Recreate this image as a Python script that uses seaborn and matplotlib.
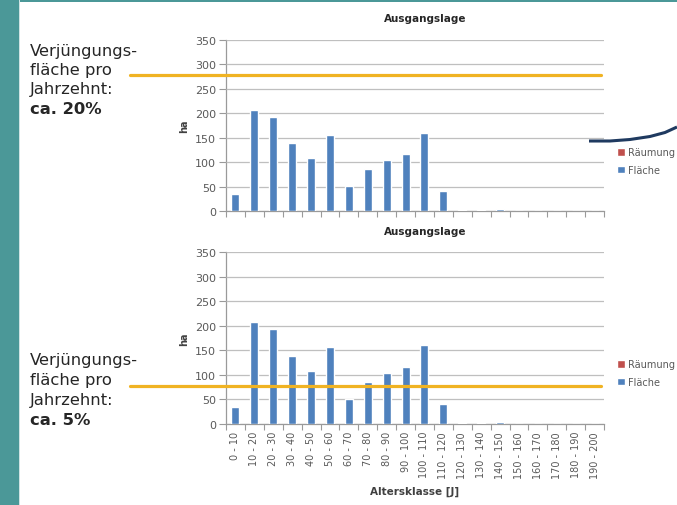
import matplotlib.pyplot as plt
import matplotlib.patches as mpatches
from matplotlib.lines import Line2D
import seaborn as sns
import pandas as pd
import numpy as np

sns.set_theme(style="white")
plt.rcParams['font.family'] = ['DejaVu Sans']

# Data
klassen = ["0 - 10", "10 - 20", "20 - 30", "30 - 40", "40 - 50", "50 - 60", "60 - 70",
           "70 - 80", "80 - 90", "90 - 100", "100 - 110", "110 - 120", "120 - 130",
           "130 - 140", "140 - 150", "150 - 160", "160 - 170", "170 - 180",
           "180 - 190", "190 - 200"]
flaeche = [35, 207, 193, 138, 108, 156, 51, 85, 104, 117, 160, 40, 3, 3, 5, 0, 0, 0, 0, 0]
raeumung = [0] * 20
serien = ["Räumung", "Fläche"]
farben = {"Räumung": "#c0504d", "Fläche": "#4f81bd"}
y_ticks = [0, 50, 100, 150, 200, 250, 300, 350]
titel = "Ausgangslage"
anteile = ["ca. 20%", "ca. 5%"]
linie_ha = [278, 78]  # level of the orange marker lines in ha

df = pd.DataFrame({
    "Altersklasse": klassen * 2,
    "ha": raeumung + flaeche,
    "Serie": ["Räumung"] * 20 + ["Fläche"] * 20,
})

W, H = 677, 506
fig = plt.figure(figsize=(W / 100, H / 100), dpi=100)
fig.patch.set_facecolor("white")

# teal frame of the slide
teal = "#4b9898"
fig.add_artist(mpatches.Rectangle((0, 0), 19 / W, 1, transform=fig.transFigure, color=teal, lw=0))
fig.add_artist(mpatches.Rectangle((0, 1 - 3 / H), 1, 3 / H, transform=fig.transFigure, color=teal, lw=0))
fig.add_artist(mpatches.Rectangle((19 / W, 0), 1.2 / W, 1, transform=fig.transFigure, color="#cfe3e3", lw=0))

grey = "#595959"


def px(x, y):
    return x / W, 1 - y / H


def draw_chart(top, bottom, show_labels, legend_y, title_y):
    ax = fig.add_axes([226 / W, 1 - bottom / H, 378 / W, (bottom - top) / H])
    sns.barplot(data=df, x="Altersklasse", y="ha", hue="Serie", hue_order=serien,
                palette=farben, dodge=False, width=0.42, ax=ax, saturation=1)
    ax.set_ylim(0, 350)
    ax.set_xlim(-0.5, 19.5)
    ax.set_yticks(y_ticks)
    ax.yaxis.grid(True, color="#bfbfbf", lw=0.9)
    ax.set_axisbelow(True)
    for s in ["top", "right"]:
        ax.spines[s].set_visible(False)
    for s in ["left", "bottom"]:
        ax.spines[s].set_color("#9a9a9a")
        ax.spines[s].set_linewidth(0.9)
        ax.spines[s].set_zorder(0.5)
    ax.tick_params(axis="y", length=5, width=0.8, color="#9a9a9a", labelsize=8, labelcolor=grey, pad=2, left=True)
    ax.set_xticks(np.arange(-0.5, 20, 1), minor=True)
    ax.tick_params(axis="x", which="minor", length=4, width=0.8, color="#9a9a9a", bottom=True)
    ax.tick_params(axis="x", which="major", length=0, labelsize=7, labelcolor=grey, pad=5)
    if show_labels:
        ax.set_xticks(range(20), klassen, rotation=90)
        ax.set_xlabel("Altersklasse [J]", fontsize=7.5, fontweight="bold", color="#404040", labelpad=6)
    else:
        ax.set_xticks(range(20), [""] * 20)
        ax.set_xlabel("")
    ax.set_ylabel("ha", fontsize=7, fontweight="bold", color="#404040", labelpad=4)
    handles, labels = ax.get_legend_handles_labels()
    ax.legend(handles, labels, loc="center left", bbox_to_anchor=px(617, legend_y),
              bbox_transform=fig.transFigure, frameon=False, fontsize=7, labelcolor=grey,
              handlelength=0.8, handleheight=0.8, handletextpad=0.35, labelspacing=0.75,
              borderpad=0, borderaxespad=0)
    fig.text(*px(425, title_y), titel, fontsize=7.5, fontweight="bold", color="#262626",
             ha="center", va="center")
    return ax


ax1 = draw_chart(40.7, 212, False, 162, 19)
ax2 = draw_chart(253, 425, True, 374, 232)

# orange marker lines
orange = "#f0b323"
for ax, lvl in zip([ax1, ax2], linie_ha):
    y_px = ax.transData.transform((0, lvl))[1]
    y_fig = fig.transFigure.inverted().transform((0, y_px))[1]
    fig.add_artist(Line2D([130 / W, 601 / W], [y_fig, y_fig], color=orange, lw=2.3,
                          transform=fig.transFigure))

# side text
textcol = "#262626"
for anteil, baselines in zip(anteile, [[56, 75, 94, 114], [365, 385, 405, 425]]):
    zeilen = ["Verjüngungs-", "fläche pro", "Jahrzehnt:", anteil]
    for i, (z, b) in enumerate(zip(zeilen, baselines)):
        fig.text(*px(30, b), z, fontsize=11.8, color=textcol, va="baseline", ha="left",
                 fontweight="bold" if i == 3 else "normal")

# dark arc on the right
cx = np.array([589, 610, 630, 650, 665, 677])
cy = np.array([142, 142, 140.5, 137.5, 133.5, 128])
fig.add_artist(Line2D(cx / W, 1 - cy / H, color="#1f3a60", lw=2.2, transform=fig.transFigure,
                      solid_capstyle="butt"))

fig.savefig("out.png", dpi=100)
